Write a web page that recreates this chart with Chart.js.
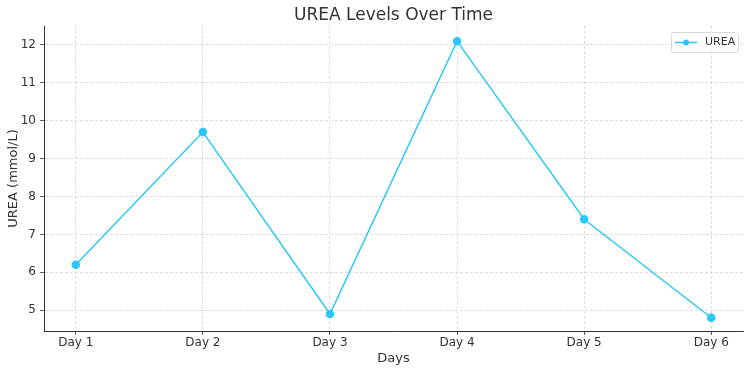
<!DOCTYPE html>
<html>
<head>
<meta charset="utf-8">
<script src="https://cdn.jsdelivr.net/npm/chart.js@4"></script>
<style>
  body { margin: 0; background: #fff; }
  canvas { display: block; }
</style>
</head>
<body>
<canvas id="myChart" width="750" height="372"></canvas>
<script>
var days = ["Day 1", "Day 2", "Day 3", "Day 4", "Day 5", "Day 6"];
var ureaValues = [6.2, 9.7, 4.9, 12.1, 7.4, 4.8];
var yTicks = [5, 6, 7, 8, 9, 10, 11, 12];
var chartTitle = "UREA Levels Over Time";
var lineColor = "#29c8f8";
var font = "DejaVu Sans";

var points = days.map(function (d, i) { return { x: i, y: ureaValues[i] }; });

// title centred over the plot area, legend box inside the plot top right
var decorations = {
  id: "decorations",
  afterDraw: function (chart) {
    var ctx = chart.ctx;
    var area = chart.chartArea;
    ctx.save();
    ctx.fillStyle = "#333";
    ctx.font = "17px '" + font + "'";
    ctx.textAlign = "center";
    ctx.textBaseline = "middle";
    ctx.fillText(chartTitle, (area.left + area.right) / 2, 16);

    var x1 = area.right - 72, y1 = area.top + 6, w = 67, h = 20;
    ctx.fillStyle = "rgba(255,255,255,0.85)";
    ctx.strokeStyle = "#d8d8d8";
    ctx.lineWidth = 1;
    ctx.beginPath();
    ctx.roundRect(x1 + 0.5, y1 + 0.5, w, h, 2);
    ctx.fill();
    ctx.stroke();
    var cy = y1 + h / 2 + 0.5;
    ctx.strokeStyle = lineColor;
    ctx.lineWidth = 1.5;
    ctx.beginPath();
    ctx.moveTo(x1 + 4, cy);
    ctx.lineTo(x1 + 26, cy);
    ctx.stroke();
    ctx.fillStyle = lineColor;
    ctx.beginPath();
    ctx.arc(x1 + 15, cy, 3, 0, Math.PI * 2);
    ctx.fill();
    ctx.fillStyle = "#333";
    ctx.font = "11px '" + font + "'";
    ctx.textAlign = "left";
    ctx.fillText(chart.data.datasets[0].label, x1 + 34, cy);
    ctx.restore();
  }
};

new Chart("myChart", {
  type: "line",
  data: {
    datasets: [{
      label: "UREA",
      data: points,
      borderColor: lineColor,
      backgroundColor: lineColor,
      borderWidth: 1.5,
      pointRadius: 3.5,
      pointHoverRadius: 3.5,
      tension: 0
    }]
  },
  options: {
    responsive: false,
    animation: false,
    layout: { padding: { left: 0, right: 7, top: 26, bottom: 0 } },
    plugins: {
      legend: { display: false },
      tooltip: { enabled: false },
      title: { display: false }
    },
    scales: {
      x: {
        type: "linear",
        min: -0.25,
        max: 5.25,
        afterBuildTicks: function (axis) {
          axis.ticks = days.map(function (d, i) { return { value: i }; });
        },
        afterFit: function (axis) { axis.height = 41; },
        ticks: {
          callback: function (v) { return days[v]; },
          color: "#333",
          font: { family: font, size: 12 },
          padding: 1,
          maxRotation: 0
        },
        grid: {
          color: "#d4d4d4",
          tickColor: "#333",
          tickLength: 4,
          lineWidth: 0.8
        },
        border: { color: "#333", width: 1, dash: [3, 2] },
        title: {
          display: true,
          text: "Days",
          color: "#333",
          font: { family: font, size: 13 },
          padding: { top: 0, bottom: 6 }
        }
      },
      y: {
        min: 4.45,
        max: 12.5,
        afterBuildTicks: function (axis) {
          axis.ticks = yTicks.map(function (v) { return { value: v }; });
        },
        afterFit: function (axis) { axis.width = 44; },
        ticks: {
          color: "#333",
          font: { family: font, size: 12 },
          padding: 4
        },
        grid: {
          color: "#d4d4d4",
          tickColor: "#333",
          tickLength: 4,
          lineWidth: 0.8
        },
        border: { color: "#333", width: 1, dash: [3, 2] },
        title: {
          display: true,
          text: "UREA (mmol/L)",
          color: "#333",
          font: { family: font, size: 13 },
          padding: { top: 6, bottom: 0 }
        }
      }
    }
  },
  plugins: [decorations]
});
</script>
</body>
</html>
